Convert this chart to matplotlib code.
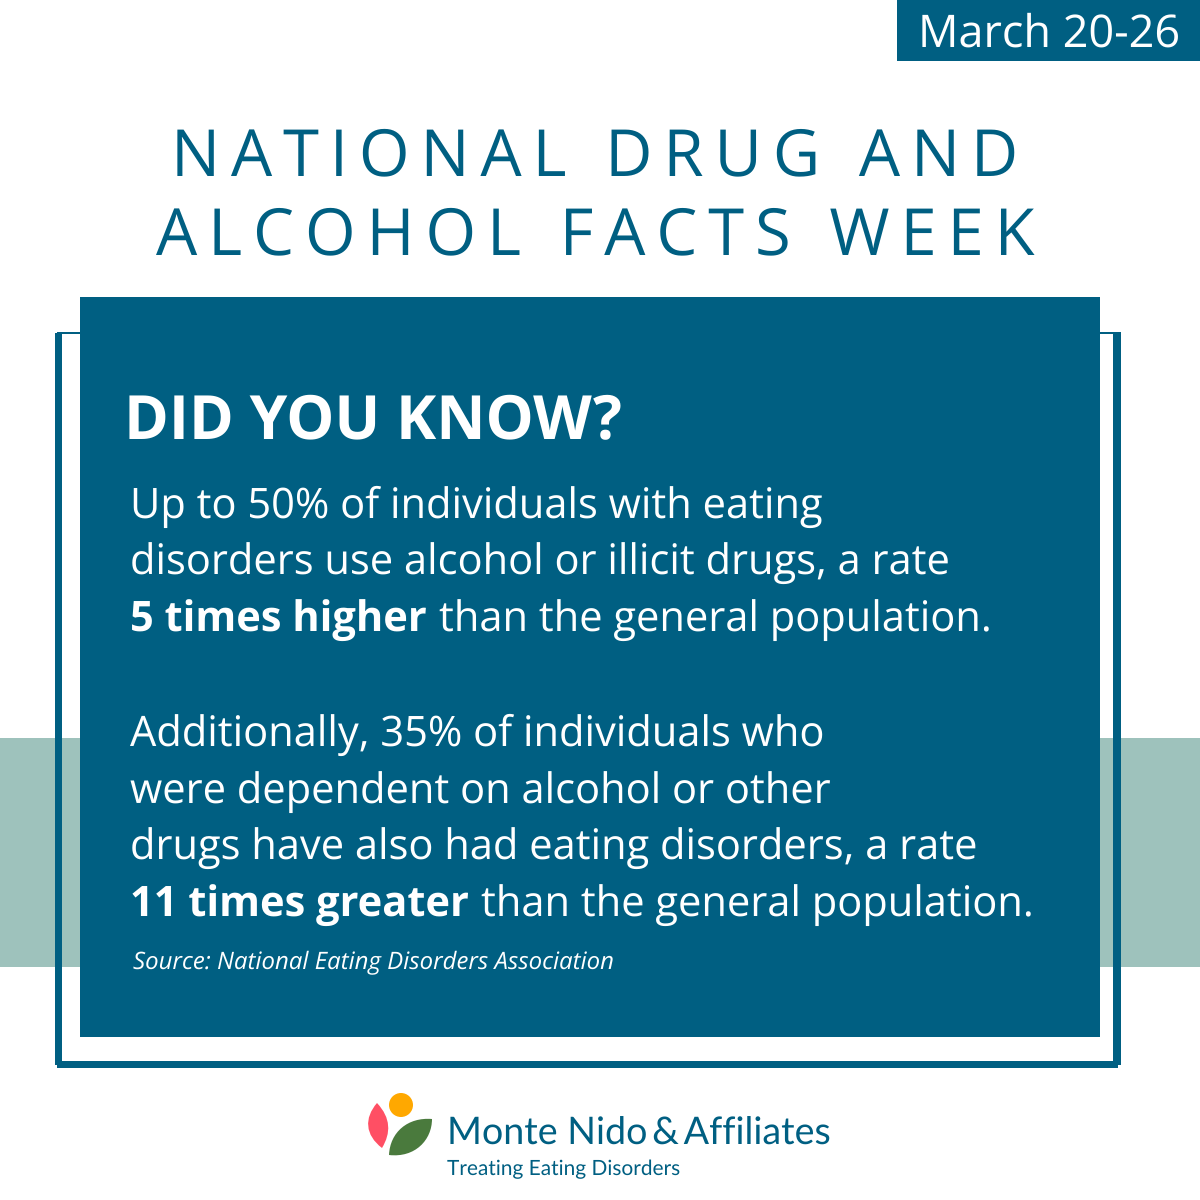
import matplotlib
matplotlib.use('Agg')
import matplotlib.pyplot as plt
from matplotlib.patches import Rectangle, Circle, PathPatch
from matplotlib.path import Path

# без хинтинга ширина строк точнее
plt.rcParams['text.hinting'] = 'no_hinting'

# Тексты
date_label = 'March 20-26'
title_lines = ['NATIONAL DRUG AND', 'ALCOHOL FACTS WEEK']
heading = 'DID YOU KNOW?'
body_lines = [
    (130, 504.5, '', 'Up to 50% of individuals with eating'),
    (130, 561.5, '', 'disorders use alcohol or illicit drugs, a rate'),
    (130, 618.5, '5 times higher', 'than the general population.'),
    (130, 732.5, '', 'Additionally, 35% of individuals who'),
    (130, 789.5, '', 'were dependent on alcohol or other'),
    (130, 846.5, '', 'drugs have also had eating disorders, a rate'),
    (130, 903.5, '11 times greater', 'than the general population.'),
]
source = 'Source: National Eating Disorders Association'
brand = 'Monte Nido\u2009&\u2009Affiliates'
tagline = 'Treating Eating Disorders'

blue = '#005F82'
sage = '#9EC2BC'

fig = plt.figure(figsize=(12, 12), dpi=100)
ax = fig.add_axes([0, 0, 1, 1])
ax.set_xlim(0, 1200)
ax.set_ylim(1200, 0)
ax.axis('off')

# Фоновые блоки
ax.add_patch(Rectangle((0, 738), 1200, 229, color=sage, lw=0, zorder=1))
ax.add_patch(Rectangle((55, 333), 7, 732, color=blue, lw=0, zorder=2))
ax.add_patch(Rectangle((1113, 332), 8, 733, color=blue, lw=0, zorder=2))
ax.add_patch(Rectangle((57, 1061), 1061, 7, color=blue, lw=0, zorder=2))
ax.add_patch(Rectangle((57, 332), 30, 2, color=blue, lw=0, zorder=2))
ax.add_patch(Rectangle((1095, 332), 20, 2, color=blue, lw=0, zorder=2))
ax.add_patch(Rectangle((80, 297), 1020, 740, color=blue, lw=0, zorder=3))
ax.add_patch(Rectangle((897, 0), 303, 61, color=blue, lw=0, zorder=3))

font = 'Open Sans'
fallback = ['Open Sans', 'DejaVu Sans']
ax.text(1049, 35, date_label, color='white', fontsize=32.4, family=font, ha='center', va='center', zorder=4)
# разрядка заголовка тонкими пробелами
for y, line in zip([158, 237], title_lines):
    spaced = '\u2009'.join(line)
    ax.text(595, y, spaced, color=blue, fontsize=47, family=fallback, ha='center', va='center', zorder=4)
ax.text(123.5, 439, heading, color='white', fontsize=43.7, family=font, fontweight='bold', va='baseline', zorder=4)

# Основной текст, жирная часть идёт первой
renderer = fig.canvas.get_renderer()
for x, y, bold, rest in body_lines:
    if bold:
        t = ax.text(x, y + 13, bold, color='white', fontsize=29.95, family=font, fontweight='bold', va='baseline', zorder=4)
        x1 = ax.transData.inverted().transform(t.get_window_extent(renderer).corners())[:, 0].max()
        ax.text(x1 + 12, y + 13, rest, color='white', fontsize=29.95, family=font, va='baseline', zorder=4)
    else:
        ax.text(x, y + 13, rest, color='white', fontsize=29.95, family=font, va='baseline', zorder=4)

ax.text(133, 969, source, color='white', fontsize=17.3, family=font, style='italic', va='baseline', zorder=4)

# Логотип
ax.add_patch(Circle((401, 1105), 12, color='#FFA800', lw=0, zorder=4))
red_leaf = Path([(377, 1103), (364, 1118), (365, 1135), (382, 1148), (391, 1133), (391, 1118), (377, 1103)],
                [Path.MOVETO, Path.CURVE4, Path.CURVE4, Path.CURVE4, Path.CURVE4, Path.CURVE4, Path.CURVE4])
ax.add_patch(PathPatch(red_leaf, fc='#FF4F64', lw=0, zorder=4))
green_leaf = Path([(389, 1155), (390, 1132), (408, 1117), (432, 1119), (432, 1140), (415, 1158), (389, 1155)],
                  [Path.MOVETO, Path.CURVE4, Path.CURVE4, Path.CURVE4, Path.CURVE4, Path.CURVE4, Path.CURVE4])
ax.add_patch(PathPatch(green_leaf, fc='#4A7A3D', lw=0, zorder=4))
ax.text(447, 1145, brand, color=blue, fontsize=27.1, family=['Lato', 'DejaVu Sans'], va='baseline', zorder=4)
ax.text(447, 1175, tagline, color=blue, fontsize=15, family='Lato', va='baseline', zorder=4)

fig.savefig('out.png', dpi=100)
